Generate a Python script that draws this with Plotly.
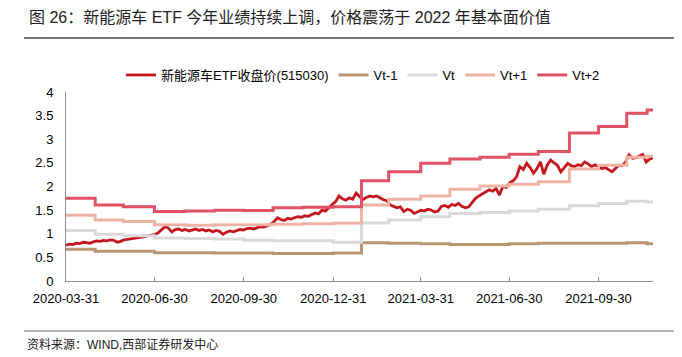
import pandas as pd
import plotly.graph_objects as go

# ---------------- data ----------------
price_start = "2020-03-31"
price_end = "2021-11-25"
price_values = [
    0.76, 0.78, 0.77, 0.80, 0.79, 0.82, 0.81, 0.80, 0.83, 0.85,
    0.84, 0.86, 0.85, 0.87, 0.86, 0.82, 0.84, 0.87, 0.88, 0.89,
    0.91, 0.92, 0.93, 0.94, 0.96, 0.97, 0.98, 1.02, 1.08, 1.15,
    1.12, 1.04, 1.09, 1.10, 1.07, 1.09, 1.06, 1.08, 1.10, 1.07,
    1.09, 1.06, 1.08, 1.04, 1.07, 1.05, 0.99, 1.03, 1.06, 1.04,
    1.07, 1.09, 1.08, 1.11, 1.12, 1.10, 1.13, 1.15, 1.14, 1.17,
    1.20, 1.26, 1.34, 1.30, 1.28, 1.33, 1.31, 1.34, 1.36, 1.35,
    1.38, 1.37, 1.41, 1.44, 1.42, 1.50, 1.48, 1.56, 1.62, 1.68,
    1.80, 1.74, 1.71, 1.76, 1.73, 1.86, 1.80, 1.72, 1.77, 1.80,
    1.78, 1.80, 1.76, 1.72, 1.70, 1.61, 1.58, 1.55, 1.57, 1.47,
    1.52, 1.50, 1.43, 1.46, 1.50, 1.48, 1.52, 1.50, 1.46, 1.48,
    1.58, 1.60, 1.56, 1.62, 1.60, 1.64, 1.58, 1.55, 1.57, 1.66,
    1.75, 1.80, 1.84, 1.88, 1.93, 1.90, 1.96, 1.82, 2.00, 1.98,
    2.08, 2.12, 2.20, 2.42, 2.36, 2.49, 2.40, 2.28, 2.38, 2.52,
    2.26, 2.45, 2.56, 2.50, 2.45, 2.31, 2.40, 2.49, 2.44, 2.42,
    2.46, 2.44, 2.52, 2.48, 2.42, 2.46, 2.42, 2.38, 2.40, 2.36,
    2.31, 2.38, 2.45, 2.44, 2.52, 2.67, 2.60, 2.61, 2.65, 2.68,
    2.52, 2.58, 2.61,
]

step_dates = [
    "2020-03-31", "2020-04-30", "2020-05-29", "2020-06-30", "2020-07-31",
    "2020-08-31", "2020-09-30", "2020-10-30", "2020-11-30", "2020-12-31",
    "2021-01-29", "2021-02-26", "2021-03-31", "2021-04-30", "2021-05-31",
    "2021-06-30", "2021-07-30", "2021-08-31", "2021-09-30", "2021-10-29",
    "2021-11-19", "2021-11-25",
]
vt_minus1 = [0.67, 0.63, 0.63, 0.60, 0.60, 0.59, 0.59, 0.58, 0.58, 0.59,
             0.81, 0.80, 0.79, 0.77, 0.77, 0.79, 0.80, 0.80, 0.80, 0.81,
             0.79, 0.79]
vt = [1.07, 0.99, 0.96, 0.91, 0.90, 0.89, 0.86, 0.85, 0.85, 0.82,
      1.23, 1.29, 1.36, 1.43, 1.45, 1.48, 1.52, 1.59, 1.64, 1.69,
      1.67, 1.67]
vt_plus1 = [1.39, 1.29, 1.26, 1.19, 1.18, 1.19, 1.19, 1.20, 1.21, 1.22,
            1.61, 1.73, 1.80, 1.94, 2.01, 2.05, 2.10, 2.37, 2.45, 2.62,
            2.64, 2.64]
vt_plus2 = [1.75, 1.61, 1.57, 1.47, 1.48, 1.50, 1.49, 1.55, 1.56, 1.57,
            2.12, 2.31, 2.49, 2.58, 2.62, 2.68, 2.74, 3.13, 3.27, 3.55,
            3.62, 3.62]

tick_dates = ["2020-03-31", "2020-06-30", "2020-09-30", "2020-12-31",
              "2021-03-31", "2021-06-30", "2021-09-30"]
y_ticks = [0, 0.5, 1, 1.5, 2, 2.5, 3, 3.5, 4]
y_tick_text = ["0", "0.5", "1", "1.5", "2", "2.5", "3", "3.5", "4"]

series_names = ["新能源车ETF收盘价(515030)", "Vt-1", "Vt", "Vt+1", "Vt+2"]
colors = ["#C5161D", "#B99571", "#D9D9D9", "#EFB3A5", "#E15264"]

title_text = "图 26：新能源车 ETF 今年业绩持续上调，价格震荡于 2022 年基本面价值"
source_text = "资料来源：WIND,西部证券研发中心"

# ---------------- figure ----------------
FONT = "Liberation Sans, Arial, Noto Sans CJK SC, sans-serif"
price_dates = pd.date_range(price_start, price_end, periods=len(price_values))

fig = go.Figure()
fig.add_trace(go.Scatter(x=price_dates, y=price_values, mode="lines",
                         name=series_names[0],
                         line=dict(color=colors[0], width=2.8)))
for name, vals, col in zip(series_names[1:], [vt_minus1, vt, vt_plus1, vt_plus2], colors[1:]):
    fig.add_trace(go.Scatter(x=step_dates, y=vals, mode="lines", name=name,
                             line=dict(color=col, width=3, shape="hv")))

# page body has an 8px margin; figure is sized so its bottom/right meet the window
OFF = 8
W, H = 682 - OFF, 357 - OFF
L, R, T, B = 66 - OFF, 29, 92 - OFF, 76
pw, ph = W - L - R, H - T - B

def px(X):  # page pixel x -> paper
    return (X - OFF - L) / pw

def py(Y):  # page pixel y -> paper
    return (H - B - (Y - OFF)) / ph

fig.update_layout(
    width=W, height=H,
    margin=dict(l=L, r=R, t=T, b=B, pad=0),
    paper_bgcolor="white", plot_bgcolor="white",
    font=dict(family=FONT, size=13, color="#000000"),
    showlegend=True,
    legend=dict(orientation="h", x=px(363), xanchor="center",
                y=py(75), yanchor="middle",
                font=dict(size=13, family=FONT), bgcolor="rgba(0,0,0,0)",
                itemwidth=30),
    xaxis=dict(type="date", range=["2020-03-31", "2021-11-25"],
               tickvals=tick_dates, ticktext=tick_dates,
               showgrid=False, zeroline=False, showline=True,
               linecolor="#8C8C8C", linewidth=1,
               ticks="inside", ticklen=4, tickcolor="#8C8C8C",
               ticklabelstandoff=5,
               tickfont=dict(size=13, family=FONT)),
    yaxis=dict(range=[0, 4], tickvals=y_ticks, ticktext=y_tick_text,
               showgrid=False, zeroline=False, showline=True,
               linecolor="#8C8C8C", linewidth=1, ticks="",
               ticklabelstandoff=9,
               tickfont=dict(size=13, family=FONT)),
)

fig.add_annotation(text=title_text, xref="paper", yref="paper",
                   x=px(27), y=py(18), xanchor="left", yanchor="middle",
                   showarrow=False, font=dict(size=16, family=FONT, color="#222222"))
fig.add_annotation(text=source_text, xref="paper", yref="paper",
                   x=px(25), y=py(344), xanchor="left", yanchor="middle",
                   showarrow=False, font=dict(size=12, family=FONT, color="#222222"))
fig.add_shape(type="line", xref="paper", yref="paper",
              x0=px(24), x1=px(682), y0=py(38), y1=py(38),
              line=dict(color="#444444", width=1.5))
fig.add_shape(type="line", xref="paper", yref="paper",
              x0=px(24), x1=px(682), y0=py(331), y1=py(331),
              line=dict(color="#666666", width=1.2))

fig.write_html("out.html")
